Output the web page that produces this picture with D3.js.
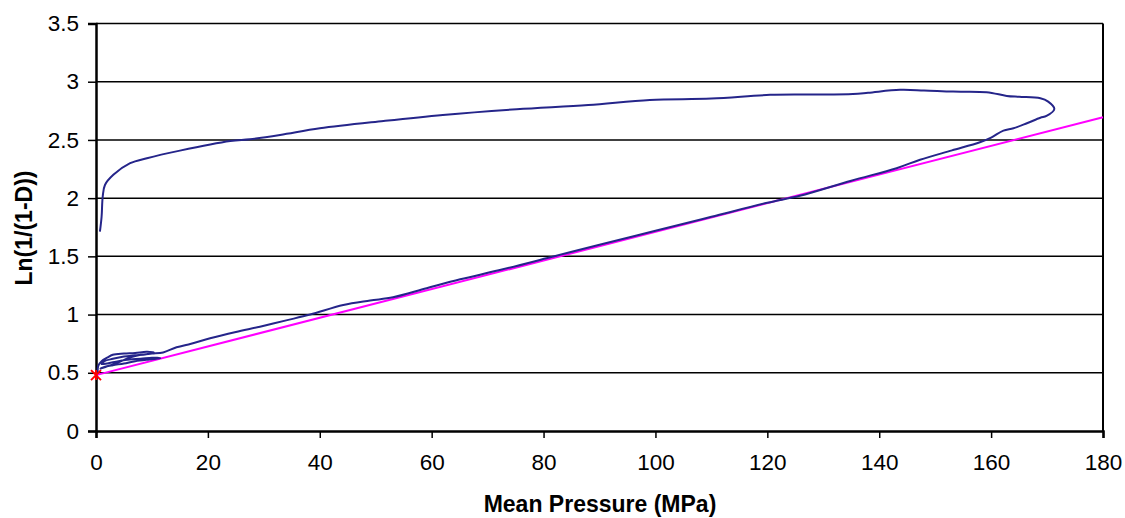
<!DOCTYPE html>
<html>
<head>
<meta charset="utf-8">
<script src="https://cdn.jsdelivr.net/npm/d3@7"></script>
<style>
  body { margin: 0; background: #fff; }
  svg { display: block; }
  .tick text { font-family: "Liberation Sans", Arial, sans-serif; fill: #000; }
</style>
</head>
<body>
<div id="chart"></div>
<script>
// data
var xTicks = [0, 20, 40, 60, 80, 100, 120, 140, 160, 180];
var yTicks = [0, 0.5, 1, 1.5, 2, 2.5, 3, 3.5];

// loading branch (noisy start, then up to the tip)
var loadP = [0.3, 0.4, 1, 2, 3, 5, 7, 9, 10.3, 9, 7, 5, 3, 1.5, 1, 2, 4, 6, 8, 10, 11.5, 9.5, 7, 5, 3, 1.5, 0.8, 2, 4, 6, 8, 10, 12,
    14.4, 17, 20.4, 25, 29.3, 34, 38.3, 44.2, 49, 53.1, 59.1, 65.1, 72, 81.2, 90, 100, 110, 120, 125.8, 135, 143.1, 147.3, 153, 158, 160, 162.2, 164, 166.4, 168.8, 169.9, 171.3];
var loadY = [0.50, 0.56, 0.60, 0.63, 0.655, 0.665, 0.67, 0.68, 0.675, 0.66, 0.65, 0.64, 0.62, 0.60, 0.575, 0.58, 0.60, 0.615, 0.62, 0.63, 0.625, 0.615, 0.60, 0.58, 0.565, 0.55, 0.535, 0.555, 0.59, 0.63, 0.655, 0.665, 0.675,
    0.719, 0.75, 0.796, 0.85, 0.896, 0.95, 1.0, 1.082, 1.12, 1.148, 1.226, 1.303, 1.38, 1.492, 1.6, 1.72, 1.84, 1.96, 2.02, 2.15, 2.257, 2.33, 2.41, 2.48, 2.52, 2.58, 2.6, 2.643, 2.69, 2.706, 2.766];

// unloading branch (tip back to zero)
var unloadP = [171.3, 170.2, 168.8, 165, 162.8, 159.2, 153.2, 148, 143.7, 138, 135.3, 128, 120.5, 110, 99, 88, 75.2, 62, 51.4, 40, 32.9, 27.5, 24, 15, 9.1, 6.1, 3.1, 1.6, 1.2, 1.0, 0.7];
var unloadY = [2.766, 2.829, 2.858, 2.87, 2.878, 2.91, 2.915, 2.925, 2.93, 2.905, 2.895, 2.89, 2.887, 2.855, 2.844, 2.8, 2.764, 2.715, 2.663, 2.6, 2.543, 2.506, 2.49, 2.408, 2.343, 2.3, 2.2, 2.113, 2.013, 1.84, 1.712];

// fitted straight line and its intercept marker
var fitP = [0, 180];
var fitY = [0.48, 2.695];
var markP = [0];
var markY = [0.48];

var width = 1125, height = 518;
var margin = {top: 23.5, right: 22, bottom: 87, left: 96};
var w = width - margin.left - margin.right;
var h = height - margin.top - margin.bottom;

var svg = d3.select("#chart").append("svg")
    .attr("width", width)
    .attr("height", height);

var g = svg.append("g")
    .attr("transform", `translate(${margin.left},${margin.top})`);

var x = d3.scaleLinear().domain([0, 180]).range([0, w]);
var y = d3.scaleLinear().domain([0, 3.5]).range([h, 0]);

// gridlines
g.selectAll(".grid").data(yTicks.filter(d => d > 0))
    .enter().append("line")
    .attr("class", "grid")
    .attr("x1", 0).attr("x2", w)
    .attr("y1", d => y(d)).attr("y2", d => y(d))
    .attr("stroke", "#000").attr("stroke-width", 1.5);

// right border
g.append("line")
    .attr("x1", w).attr("x2", w).attr("y1", 0).attr("y2", h)
    .attr("stroke", "#000").attr("stroke-width", 2);

var xAxis = g.append("g")
    .attr("transform", `translate(0,${h})`)
    .call(d3.axisBottom(x).tickValues(xTicks).tickSize(7).tickPadding(16).tickFormat(d3.format("d")));
var yAxis = g.append("g")
    .call(d3.axisLeft(y).tickValues(yTicks).tickSize(8).tickPadding(9).tickFormat(d => d));

[xAxis, yAxis].forEach(a => {
    a.select(".domain").attr("stroke", "#000").attr("stroke-width", 2.5);
    a.selectAll(".tick line").attr("stroke", "#000").attr("stroke-width", 1.5);
    a.selectAll(".tick text").style("font-size", "22.5px");
});

var pts = (px, py) => px.map((p, i) => [p, py[i]]);
var line = d3.line().x(d => x(d[0])).y(d => y(d[1])).curve(d3.curveCatmullRom.alpha(0.5));

g.append("path")
    .datum(pts(fitP, fitY))
    .attr("d", line)
    .attr("fill", "none")
    .attr("stroke", "#ff00ff")
    .attr("stroke-width", 2);

g.append("path")
    .datum(pts(loadP, loadY).concat(pts(unloadP, unloadY).slice(1)))
    .attr("d", line)
    .attr("fill", "none")
    .attr("stroke", "#25258a")
    .attr("stroke-width", 2)
    .attr("stroke-linejoin", "round");

// star marker
pts(markP, markY).forEach(d => {
    var cx = x(d[0]), cy = y(d[1]), r = 5;
    var m = g.append("g").attr("stroke", "#ff0000").attr("stroke-width", 2);
    m.append("line").attr("x1", cx - r).attr("y1", cy - r).attr("x2", cx + r).attr("y2", cy + r);
    m.append("line").attr("x1", cx - r).attr("y1", cy + r).attr("x2", cx + r).attr("y2", cy - r);
    m.append("line").attr("x1", cx).attr("y1", cy - r).attr("x2", cx).attr("y2", cy + r);
});

// axis titles
svg.append("text")
    .attr("x", 600)
    .attr("y", 512)
    .attr("text-anchor", "middle")
    .style("font-family", "'Liberation Sans', Arial, sans-serif")
    .style("font-weight", "bold")
    .style("font-size", "23px")
    .text("Mean Pressure (MPa)");

svg.append("text")
    .attr("transform", "translate(32,228) rotate(-90)")
    .attr("text-anchor", "middle")
    .style("font-family", "'Liberation Sans', Arial, sans-serif")
    .style("font-weight", "bold")
    .style("font-size", "23px")
    .text("Ln(1/(1-D))");
</script>
</body>
</html>
